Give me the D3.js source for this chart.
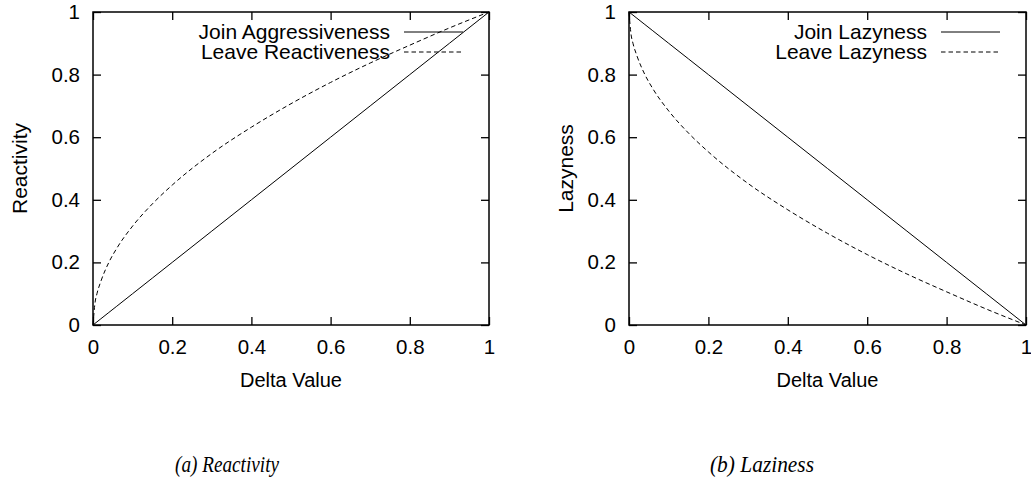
<!DOCTYPE html>
<html>
<head>
<meta charset="utf-8">
<script src="https://cdn.jsdelivr.net/npm/d3@7"></script>
<style>
  body { margin: 0; background: #fff; }
  svg text { font-family: "Liberation Sans", Arial, sans-serif; fill: #000; }
  .caption { font-family: "Liberation Serif", serif !important; font-style: italic; }
</style>
</head>
<body>
<div id="chart"></div>
<script>
// values
const deltaX = [0, 0.005, 0.01, 0.02, 0.04, 0.06, 0.1, 0.15, 0.2, 0.3, 0.4, 0.5, 0.6, 0.7, 0.8, 0.9, 1];
const joinAggressiveness = [0, 0.005, 0.01, 0.02, 0.04, 0.06, 0.1, 0.15, 0.2, 0.3, 0.4, 0.5, 0.6, 0.7, 0.8, 0.9, 1];
const leaveReactiveness = [0, 0.07, 0.1, 0.14, 0.2, 0.245, 0.316, 0.387, 0.447, 0.548, 0.632, 0.707, 0.775, 0.837, 0.894, 0.949, 1];
const joinLazyness = [1, 0.995, 0.99, 0.98, 0.96, 0.94, 0.9, 0.85, 0.8, 0.7, 0.6, 0.5, 0.4, 0.3, 0.2, 0.1, 0];
const leaveLazyness = [1, 0.93, 0.9, 0.86, 0.8, 0.755, 0.684, 0.613, 0.553, 0.452, 0.368, 0.293, 0.225, 0.163, 0.106, 0.051, 0];
const tickValues = [0, 0.2, 0.4, 0.6, 0.8, 1];

const width = 1031, height = 487;

let svg = d3.select("#chart").append("svg")
  .attr("width", width)
  .attr("height", height);

drawPanel({
  left: 93, right: 489, top: 12, bottom: 325,
  yLabel: "Reactivity", yLabelX: 20,
  caption: "(a) Reactivity", captionX: 227, captionW: 104,
  series: [
    { name: "Join Aggressiveness", values: joinAggressiveness, dash: null },
    { name: "Leave Reactiveness", values: leaveReactiveness, dash: "4.5,3" }
  ]
});

drawPanel({
  left: 629, right: 1026, top: 12, bottom: 325,
  yLabel: "Lazyness", yLabelX: 566,
  caption: "(b) Laziness", captionX: 762, captionW: 104,
  series: [
    { name: "Join Lazyness", values: joinLazyness, dash: null },
    { name: "Leave Lazyness", values: leaveLazyness, dash: "4.5,3" }
  ]
});

function drawPanel(p) {
  let x = d3.scaleLinear().domain([0, 1]).range([p.left, p.right]);
  let y = d3.scaleLinear().domain([0, 1]).range([p.bottom, p.top]);
  let g = svg.append("g");
  let tickLen = 8;

  // inward ticks on all four sides
  let fmt = d3.format("~g");
  g.append("g").attr("transform", "translate(0," + p.bottom + ")")
    .call(d3.axisBottom(x).tickValues(tickValues).tickSize(-tickLen).tickPadding(14).tickFormat(fmt));
  g.append("g").attr("transform", "translate(0," + p.top + ")")
    .call(d3.axisTop(x).tickValues(tickValues).tickSize(-tickLen).tickFormat(""));
  g.append("g").attr("transform", "translate(" + p.left + ",0)")
    .call(d3.axisLeft(y).tickValues(tickValues).tickSize(-tickLen).tickPadding(13).tickFormat(fmt));
  g.append("g").attr("transform", "translate(" + p.right + ",0)")
    .call(d3.axisRight(y).tickValues(tickValues).tickSize(-tickLen).tickFormat(""));

  g.selectAll(".domain").remove();
  g.selectAll(".tick line").attr("stroke", "#000").attr("stroke-width", 1.3);
  g.selectAll(".tick text").style("font-size", "20.5px").attr("fill", "#000");

  g.append("rect")
    .attr("x", p.left).attr("y", p.top)
    .attr("width", p.right - p.left).attr("height", p.bottom - p.top)
    .attr("fill", "none").attr("stroke", "#000").attr("stroke-width", 1.5);

  let line = d3.line()
    .x((d, i) => x(deltaX[i]))
    .y((d) => y(d))
    .curve(d3.curveMonotoneX);

  p.series.forEach(function(s, i) {
    g.append("path")
      .attr("d", line(s.values))
      .attr("fill", "none")
      .attr("stroke", "#000")
      .attr("stroke-width", 1)
      .attr("stroke-dasharray", s.dash);

    // legend
    let ly = 32 + i * 20;
    g.append("text")
      .attr("x", p.right - 99).attr("y", ly)
      .attr("dy", "0.35em")
      .attr("text-anchor", "end")
      .style("font-size", "21px")
      .text(s.name);
    g.append("line")
      .attr("x1", p.right - 85).attr("x2", p.right - 26)
      .attr("y1", ly).attr("y2", ly)
      .attr("stroke", "#000").attr("stroke-width", 1)
      .attr("stroke-dasharray", s.dash);
  });

  // axis labels
  g.append("text")
    .attr("x", (p.left + p.right) / 2).attr("y", 387)
    .attr("text-anchor", "middle")
    .style("font-size", "20px")
    .text("Delta Value");
  g.append("text")
    .attr("transform", "translate(" + p.yLabelX + "," + ((p.top + p.bottom) / 2) + ") rotate(-90)")
    .attr("dy", "0.35em")
    .attr("text-anchor", "middle")
    .style("font-size", "21px")
    .text(p.yLabel);

  // caption
  g.append("text")
    .attr("class", "caption")
    .attr("x", p.captionX).attr("y", 472)
    .attr("text-anchor", "middle")
    .attr("textLength", p.captionW)
    .attr("lengthAdjust", "spacingAndGlyphs")
    .style("font-size", "23px")
    .text(p.caption);
}
</script>
</body>
</html>
